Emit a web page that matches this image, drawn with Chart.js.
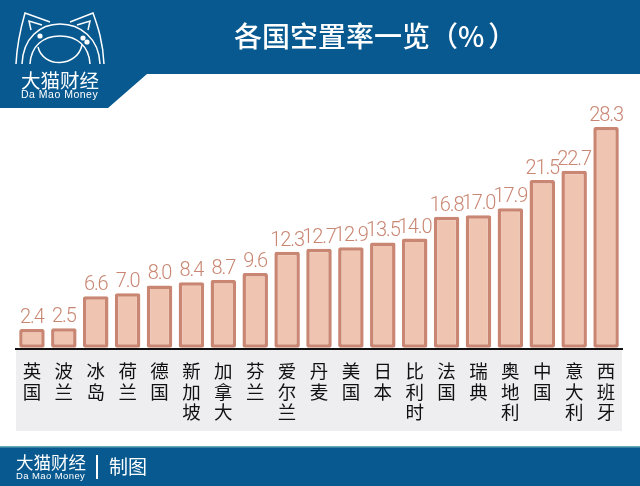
<!DOCTYPE html>
<html>
<head>
<meta charset="utf-8">
<script src="https://cdn.jsdelivr.net/npm/chart.js@4"></script>
<style>
html, body { margin: 0; padding: 0; background: #fff; }
#wrap { position: relative; width: 640px; height: 486px; overflow: hidden; font-family: "Noto Sans CJK SC", sans-serif; }
#chart { position: absolute; left: 0; top: 0; }
#deco { position: absolute; left: 0; top: 0; }
.t { position: absolute; color: #fff; white-space: nowrap; line-height: 1; }
</style>
</head>
<body>
<div id="wrap">
  <svg id="deco" width="640" height="486">
    <polygon points="0,0 640,0 640,74 147,74 108,108 0,108" fill="#07598f"/>
    <rect x="0" y="447" width="640" height="39" fill="#07598f"/>
    <rect x="0" y="446" width="640" height="1.5" fill="#6aa9b8"/>
    <g fill="none" stroke="#fff" stroke-width="1.5">
      <path d="M16 64 C17 42 21 27 25 13 L50 22"/>
      <path d="M104 64 C103 42 98 27 93 13 L70 22"/>
      <path d="M22 64 C23 38 40 24 60 24 C80 24 99 38 100 64"/>
      <path d="M30 64 C31 46 43 36 60 36 C77 36 89 46 90 64"/>
      <path d="M38 47 C43 68 77 68 82 45"/>
      <path d="M31 30 L29 21 L42 25"/>
      <path d="M88 30 L90 21 L77 25"/>
    </g>
    <circle cx="40" cy="36" r="2.6" fill="#fff"/>
    <circle cx="83" cy="38" r="2.6" fill="#fff"/>
    <circle cx="87" cy="42" r="2.6" fill="#fff"/>
    <rect x="96" y="455" width="2" height="24" fill="#fff"/>
  </svg>
  <canvas id="chart" width="640" height="486"></canvas>
  <div class="t" style="left:234px;top:21px;font-size:28px;font-weight:500;">各国空置率一览（<span style="letter-spacing:4px;">%</span>）</div>
  <div class="t" style="left:21px;top:70px;font-size:19.5px;">大猫财经</div>
  <div class="t" style="left:21px;top:89px;font-size:10.5px;font-family:'Liberation Sans';letter-spacing:.5px;">Da Mao Money</div>
  <div class="t" style="left:16px;top:453px;font-size:17.5px;">大猫财经</div>
  <div class="t" style="left:16px;top:471px;font-size:9.5px;font-family:'Liberation Sans';letter-spacing:.4px;">Da Mao Money</div>
  <div class="t" style="left:109px;top:456px;font-size:19px;">制图</div>
</div>
<script>
const countries = ['英国', '波兰', '冰岛', '荷兰', '德国', '新加坡', '加拿大', '芬兰', '爱尔兰', '丹麦',
    '美国', '日本', '比利时', '法国', '瑞典', '奥地利', '中国', '意大利', '西班牙'];
const vacancyRates = [2.4, 2.5, 6.6, 7.0, 8.0, 8.4, 8.7, 9.6, 12.3, 12.7,
    12.9, 13.5, 14.0, 16.8, 17.0, 17.9, 21.5, 22.7, 28.3];

// grey strip behind the category labels
const labelBand = {
    id: 'labelBand',
    beforeDraw(chart) {
        const area = chart.chartArea;
        chart.ctx.fillStyle = '#eeeef0';
        chart.ctx.fillRect(area.left, area.bottom, area.width, 82);
    }
};

// value above each bar
const valueLabels = {
    id: 'valueLabels',
    afterDatasetsDraw(chart) {
        const ctx = chart.ctx;
        ctx.save();
        ctx.fillStyle = '#c98672';
        ctx.font = '300 20px Roboto';
        ctx.letterSpacing = '-1.1px';
        ctx.textAlign = 'center';
        ctx.textBaseline = 'alphabetic';
        chart.getDatasetMeta(0).data.forEach((bar, i) => {
            ctx.fillText(vacancyRates[i].toFixed(1), bar.x, bar.y - 6);
        });
        ctx.restore();
    }
};

new Chart(document.getElementById('chart'), {
    type: 'bar',
    data: {
        labels: countries.map(name => name.split('')),
        datasets: [{
            data: vacancyRates,
            backgroundColor: '#efc4b0',
            borderColor: '#c98672',
            borderWidth: 3.5,
            borderRadius: 2,
            borderSkipped: false,
            barPercentage: 0.8,
            categoryPercentage: 1
        }]
    },
    options: {
        responsive: false,
        animation: false,
        events: [],
        layout: { padding: { left: 16, right: 18, top: 127, bottom: 0 } },
        plugins: { legend: { display: false }, tooltip: { enabled: false } },
        scales: {
            x: {
                grid: { display: false, drawTicks: false },
                border: { color: '#111', width: 2 },
                afterFit(scale) { scale.height = 137; },
                ticks: {
                    color: '#111',
                    font: { family: '"Noto Sans CJK SC"', size: 18.5, lineHeight: 1.1 },
                    padding: 12,
                    maxRotation: 0,
                    autoSkip: false
                }
            },
            y: { display: false, min: -0.15, max: 28.3 }
        }
    },
    plugins: [labelBand, valueLabels]
});
</script>
</body>
</html>
